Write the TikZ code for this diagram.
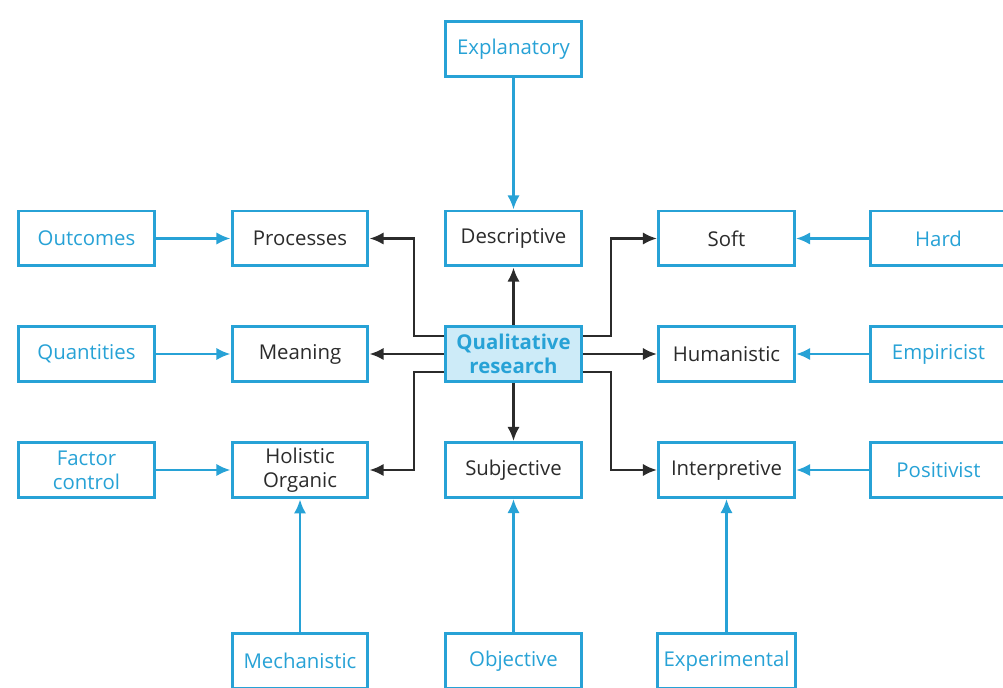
\documentclass[tikz,border=0pt]{standalone}
\usepackage{fontspec}
\setmainfont{Open Sans}
\usepackage{tikz}
\usetikzlibrary{arrows.meta,positioning,shadows}
\definecolor{qblue}{HTML}{27A2D6}
\definecolor{qfill}{HTML}{CDEBF8}
\definecolor{qtext}{HTML}{2B2B2B}
\tikzset{% 
  inner box/.style={%
    draw=qblue,
    line width=1.7pt,
    fill=white,
    minimum width=2.72cm,
    minimum height=1.1cm,
    align=center,
    text=qtext,
    font=\fontsize{11.6}{13.5}\selectfont,
    drop shadow={opacity=0.15, shadow xshift=0.6pt, shadow yshift=-0.8pt}
  }
}
\tikzset{% 
  outer box/.style={%
    inner box,
    text=qblue
  }
}
\tikzset{% 
  core box/.style={%
    inner box,
    fill=qfill,
    text=qblue,
    font=\fontsize{11.6}{13.5}\selectfont\bfseries
  }
}
\tikzset{% 
  black link/.style={%
    line width=1.5pt,
    draw=qtext,
    -{Latex[length=8pt,width=7pt]}
  }
}
\tikzset{% 
  blue link/.style={%
    line width=1.5pt,
    draw=qblue,
    -{Latex[length=8pt,width=7pt]}
  }
}

\begin{document}
\begin{tikzpicture}[x=0.02cm, y=-0.02cm]
  \useasboundingbox (0, 0) rectangle (1003, 688);
  \clip (0, 0) rectangle (1003, 688);
  % centre
  \node [core box] (qual) at (513.5, 354) {Qualitative\\research};
  % inner ring
  \node [inner box] (proc) at (300, 238.5) {Processes};
  \node [inner box] (desc) at (513.5, 238.5) {Descriptive};
  \node [inner box] (soft) at (726.5, 238.5) {Soft};
  \node [inner box] (mean) at (300, 354) {Meaning};
  \node [inner box] (human) at (726.5, 354) {Humanistic};
  \node [inner box] (holist) at (300, 470) {Holistic\\Organic};
  \node [inner box] (subj) at (513.5, 470) {Subjective};
  \node [inner box] (interp) at (726.5, 470) {Interpretive};
  % outer ring
  \node [outer box] (expl) at (513.5, 49) {Explanatory};
  \node [outer box] (outc) at (86.5, 238.5) {Outcomes};
  \node [outer box] (hard) at (938.5, 238.5) {Hard};
  \node [outer box] (quant) at (86.5, 354) {Quantities};
  \node [outer box] (empir) at (938.5, 354) {Empiricist};
  \node [outer box] (factor) at (86.5, 470) {Factor\\control};
  \node [outer box] (posit) at (938.5, 470) {Positivist};
  \node [outer box] (mech) at (300, 661) {Mechanistic};
  \node [outer box] (obj) at (513.5, 661) {Objective};
  \node [outer box] (exper) at (726.5, 661) {Experimental};
  % from the centre
  \draw [black link] (qual.north) -- (desc.south);
  \draw [black link] (qual.south) -- (subj.north);
  \draw [black link] (qual.west) -- (mean.east);
  \draw [black link] (qual.east) -- (human.west);
  \draw [black link] ([yshift=0.36cm]qual.west) -- ++(-30, 0) |- (proc.east);
  \draw [black link] ([yshift=-0.36cm]qual.west) -- ++(-30, 0) |- (holist.east);
  \draw [black link] ([yshift=0.36cm]qual.east) -- ++(28, 0) |- (soft.west);
  \draw [black link] ([yshift=-0.36cm]qual.east) -- ++(28, 0) |- (interp.west);
  % into the inner ring
  \draw [blue link] (expl.south) -- (desc.north);
  \draw [blue link] (outc.east) -- (proc.west);
  \draw [blue link] (quant.east) -- (mean.west);
  \draw [blue link] (factor.east) -- (holist.west);
  \draw [blue link] (hard.west) -- (soft.east);
  \draw [blue link] (empir.west) -- (human.east);
  \draw [blue link] (posit.west) -- (interp.east);
  \draw [blue link] (mech.north) -- (holist.south);
  \draw [blue link] (obj.north) -- (subj.south);
  \draw [blue link] (exper.north) -- (interp.south);
\end{tikzpicture}
\end{document}
